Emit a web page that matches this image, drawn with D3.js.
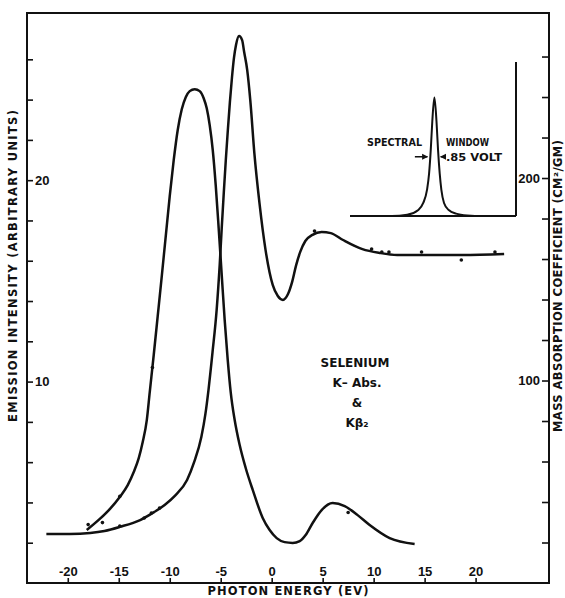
<!DOCTYPE html>
<meta charset="utf-8">
<style>
body { margin: 0; background: #fff; }
svg { display: block; font-family: "DejaVu Sans", sans-serif; }
.frame { fill: none; stroke: #111; stroke-width: 2px; }
.curve { fill: none; stroke: #111; stroke-width: 2.5px; stroke-linejoin: round; }
.dot { fill: #111; }
.axis text { font-size: 13px; font-weight: bold; fill: #111; }
.axis line { stroke: #111; stroke-width: 1.6px; }
.title { font-size: 11.5px; font-weight: bold; fill: #111; }
.note { font-size: 11px; font-weight: bold; fill: #111; }
</style>
<body>
<script src="https://cdn.jsdelivr.net/npm/d3@7"></script>
<script>
// Kβ2 emission (left axis)
var emissionE = [-18.14, -16.86, -15.88, -14.9, -14.12, -13.53, -13.04, -12.65, -12.25, -11.96, -11.57, -11.18, -10.78, -10.39, -10.0, -9.61, -9.22, -8.82, -8.43, -8.04, -7.55, -7.06, -6.67, -6.37, -6.08, -5.78, -5.49, -5.2, -4.9, -4.61, -4.31, -4.02, -3.63, -3.14, -2.55, -1.86, -0.88, -0.2, 0.49, 1.27, 2.06, 2.75, 3.33, 4.02, 4.9, 5.98, 7.16, 8.43, 9.61, 11.57, 14.02];
var emissionI = [2.63, 3.18, 3.67, 4.27, 4.86, 5.51, 6.2, 7.0, 8.09, 9.48, 11.32, 13.25, 15.24, 17.22, 19.21, 20.99, 22.48, 23.52, 24.12, 24.42, 24.52, 24.42, 24.07, 23.57, 22.73, 21.49, 19.75, 17.62, 15.29, 13.05, 11.07, 9.48, 8.09, 6.85, 5.71, 4.62, 3.23, 2.63, 2.23, 2.03, 1.99, 2.08, 2.38, 2.98, 3.62, 3.97, 3.82, 3.37, 2.88, 2.23, 1.94];
var emissionDotE = [-18.0, -16.6, -14.9, -11.7, 7.5];
var emissionDotI = [2.9, 3.0, 4.3, 10.7, 3.5];

// K absorption (right axis)
var absorptionE = [-22.1, -19.8, -17.8, -16.4, -14.9, -12.9, -11.5, -10.5, -9.5, -8.3, -7.6, -6.9, -6.5, -6.2, -5.8, -5.4, -5.1, -4.9, -4.7, -4.5, -4.3, -4.1, -3.9, -3.7, -3.5, -3.2, -2.9, -2.7, -2.4, -2.1, -1.7, -1.2, -0.6, 0.1, 0.6, 1.1, 1.6, 2.0, 2.4, 2.8, 3.3, 4.0, 4.9, 5.8, 7.0, 8.9, 10.6, 12.3, 15.5, 18.7, 22.8];
var absorptionMu = [24.2, 24.2, 24.7, 25.7, 27.7, 31.1, 35.1, 38.5, 43.0, 50.9, 59.8, 72.1, 83.5, 95.3, 114.1, 134.8, 157.0, 175.3, 192.6, 208.9, 223.7, 237.5, 249.4, 259.3, 265.7, 270.1, 268.1, 262.2, 253.3, 238.5, 212.3, 187.7, 164.4, 147.2, 141.7, 139.8, 142.7, 148.6, 157.0, 163.5, 168.9, 171.9, 173.3, 172.8, 169.4, 164.9, 163.0, 162.0, 162.0, 162.0, 162.5];
var absorptionDotE = [-14.9, -12.5, -11.8, -11.0, 4.2, 9.8, 10.8, 11.5, 14.7, 18.6, 21.9];
var absorptionDotMu = [28.1, 32.1, 34.6, 37.0, 173.8, 164.9, 163.5, 163.5, 163.5, 159.5, 163.5];

// spectral window inset (relative energy, relative height)
var windowE = [-6.0, -3.0, -1.9, -1.1, -0.75, -0.48, -0.33, -0.21, -0.1, 0.05, 0.2, 0.31, 0.43, 0.55, 0.74, 1.08, 1.6, 2.4, 3.5, 5.9];
var windowH = [0, 0, 0.01, 0.05, 0.11, 0.22, 0.36, 0.56, 0.8, 1.0, 0.8, 0.56, 0.36, 0.22, 0.11, 0.05, 0.02, 0.005, 0, 0];

var energyTicks = [-20, -15, -10, -5, 0, 5, 10, 15, 20];
var emissionTicks = [2, 4, 6, 8, 10, 12, 14, 16, 18, 20, 22, 24, 26];
var emissionLabels = [10, 20];
var absorptionTicks = [20, 40, 60, 80, 100, 120, 140, 160, 180, 200, 220, 240, 260];
var absorptionLabels = [100, 200];
var sampleLines = ["SELENIUM", "K\u2013 Abs.", "&", "K\u03b2\u2082"];

var width = 565, height = 598;
var plotL = 27, plotR = 549, plotT = 13, plotB = 583;

var svg = d3.select("body").append("svg")
    .attr("width", width)
    .attr("height", height);

var x = d3.scaleLinear().domain([-24, 27.2]).range([plotL, plotR]);
var yEm = d3.scaleLinear().domain([0, 28.3]).range([plotB, plotT]);
var yAb = d3.scaleLinear().domain([0, 281.5]).range([plotB, plotT]);

svg.append("rect")
    .attr("class", "frame")
    .attr("x", plotL)
    .attr("y", plotT)
    .attr("width", plotR - plotL)
    .attr("height", plotB - plotT);

svg.append("g")
    .attr("class", "axis")
    .attr("transform", "translate(0," + plotB + ")")
    .call(d3.axisTop(x).tickValues(energyTicks).tickSize(5).tickPadding(2)
      .tickFormat(function(d) { return String(d); }))
    .call(function(g) { g.select(".domain").remove(); });

svg.append("g")
    .attr("class", "axis")
    .attr("transform", "translate(" + plotL + ",0)")
    .call(d3.axisRight(yEm).tickValues(emissionTicks).tickSize(6).tickPadding(2)
      .tickFormat(function(d) { return emissionLabels.indexOf(d) > -1 ? d : ""; }))
    .call(function(g) { g.select(".domain").remove(); });

svg.append("g")
    .attr("class", "axis")
    .attr("transform", "translate(" + plotR + ",0)")
    .call(d3.axisLeft(yAb).tickValues(absorptionTicks).tickSize(7).tickPadding(2)
      .tickFormat(function(d) { return absorptionLabels.indexOf(d) > -1 ? d : ""; }))
    .call(function(g) { g.select(".domain").remove(); });

var emLine = d3.line()
    .x(function(d, i) { return x(emissionE[i]); })
    .y(function(d, i) { return yEm(emissionI[i]); })
    .curve(d3.curveMonotoneX);

var abLine = d3.line()
    .x(function(d, i) { return x(absorptionE[i]); })
    .y(function(d, i) { return yAb(absorptionMu[i]); })
    .curve(d3.curveMonotoneX);

svg.append("path").attr("class", "curve").attr("d", emLine(emissionE));
svg.append("path").attr("class", "curve").attr("d", abLine(absorptionE));

svg.selectAll("circle.em")
    .data(emissionDotE.map(function(d, i) { return [d, emissionDotI[i]]; }))
  .enter().append("circle")
    .attr("class", "dot em")
    .attr("cx", function(d) { return x(d[0]); })
    .attr("cy", function(d) { return yEm(d[1]); })
    .attr("r", 1.8);

svg.selectAll("circle.ab")
    .data(absorptionDotE.map(function(d, i) { return [d, absorptionDotMu[i]]; }))
  .enter().append("circle")
    .attr("class", "dot ab")
    .attr("cx", function(d) { return x(d[0]); })
    .attr("cy", function(d) { return yAb(d[1]); })
    .attr("r", 1.8);

/* inset: spectral window */
var ix = d3.scaleLinear().domain([-6, 5.9]).range([350, 516]);
var iy = d3.scaleLinear().domain([0, 1.3]).range([216, 62]);

svg.append("line").attr("class", "frame")
    .attr("x1", ix(-6)).attr("x2", ix(5.9)).attr("y1", iy(0)).attr("y2", iy(0));
svg.append("line").attr("class", "frame")
    .attr("x1", ix(5.9)).attr("x2", ix(5.9)).attr("y1", iy(0)).attr("y2", iy(1.3));

var winLine = d3.line()
    .x(function(d, i) { return ix(windowE[i]); })
    .y(function(d, i) { return iy(windowH[i]); })
    .curve(d3.curveMonotoneX);
svg.append("path").attr("class", "curve").style("stroke-width", "2px").attr("d", winLine(windowE));

var ay = iy(0.5);
svg.append("line").attr("class", "frame").style("stroke-width", "1.5px")
    .attr("x1", ix(-1.35)).attr("x2", ix(-0.45)).attr("y1", ay).attr("y2", ay);
svg.append("path").attr("d", "M" + ix(-0.4) + "," + ay + "l-6,-3v6z").style("fill", "#111");
svg.append("line").attr("class", "frame").style("stroke-width", "1.5px")
    .attr("x1", ix(0.5)).attr("x2", ix(0.85)).attr("y1", ay).attr("y2", ay);
svg.append("path").attr("d", "M" + ix(0.45) + "," + ay + "l6,-3v6z").style("fill", "#111");

svg.append("text").attr("class", "note").attr("x", 367).attr("y", 146)
    .attr("textLength", 55).attr("lengthAdjust", "spacingAndGlyphs").text("SPECTRAL");
svg.append("text").attr("class", "note").attr("x", 446).attr("y", 146)
    .attr("textLength", 43).attr("lengthAdjust", "spacingAndGlyphs").text("WINDOW");
svg.append("text").attr("class", "note").attr("x", 446).attr("y", 161)
    .attr("textLength", 56).attr("lengthAdjust", "spacingAndGlyphs").text(".85 VOLT");

/* sample label */
svg.selectAll("text.sample")
    .data(sampleLines)
  .enter().append("text")
    .attr("class", "note sample")
    .attr("x", function(d, i) { return i === 0 ? 355 : 357; })
    .attr("y", function(d, i) { return 367 + i * 20; })
    .attr("text-anchor", "middle")
    .style("font-size", "12px")
    .text(function(d) { return d; });

/* axis titles */
svg.append("text").attr("class", "title")
    .attr("x", 288).attr("y", 595)
    .attr("text-anchor", "middle")
    .attr("textLength", 161)
    .text("PHOTON  ENERGY  (EV)");

svg.append("text").attr("class", "title")
    .attr("transform", "translate(17,266) rotate(-90)")
    .attr("text-anchor", "middle")
    .attr("textLength", 312)
    .text("EMISSION  INTENSITY  (ARBITRARY  UNITS)");

svg.append("text").attr("class", "title")
    .attr("transform", "translate(562,286) rotate(-90)")
    .attr("text-anchor", "middle")
    .attr("textLength", 292)
    .text("MASS  ABSORPTION  COEFFICIENT  (CM\u00b2/GM)");
</script>
